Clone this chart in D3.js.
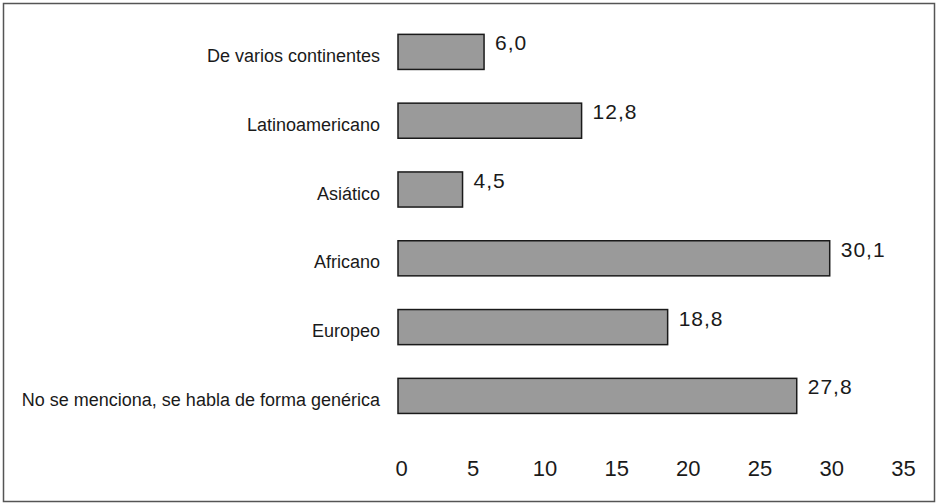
<!DOCTYPE html>
<html>
<head>
<meta charset="utf-8">
<script src="https://cdn.jsdelivr.net/npm/d3@7"></script>
<style>
  html, body { margin: 0; padding: 0; background: #fff; }
  svg { display: block; }
  text { font-family: "Liberation Sans", Arial, sans-serif; fill: #1a1a1a; }
</style>
</head>
<body>
<svg id="chart" width="940" height="504"></svg>
<script>
const categories = [
  "De varios continentes",
  "Latinoamericano",
  "Asiático",
  "Africano",
  "Europeo",
  "No se menciona, se habla de forma genérica"
];
const values = [6.0, 12.8, 4.5, 30.1, 18.8, 27.8];
const valueLabels = ["6,0", "12,8", "4,5", "30,1", "18,8", "27,8"];
const tickValues = [0, 5, 10, 15, 20, 25, 30, 35];

const svg = d3.select("#chart");

// outer frame
svg.append("rect")
  .attr("x", 3.5).attr("y", 3.5)
  .attr("width", 931).attr("height", 498)
  .attr("fill", "none")
  .attr("stroke", "#555")
  .attr("stroke-width", 1.5);

const x = d3.scaleLinear().domain([0, 35]).range([398, 900]);
const y = d3.scaleBand()
  .domain(categories)
  .range([17.5, 430.3])
  .paddingInner(0.49)
  .paddingOuter(0.245);

// bars
svg.append("g").selectAll("rect")
  .data(categories)
  .join("rect")
  .attr("x", x(0))
  .attr("y", d => y(d))
  .attr("width", (d, i) => x(values[i]) - x(0))
  .attr("height", y.bandwidth())
  .attr("fill", "#9a9a9a")
  .attr("stroke", "#1a1a1a")
  .attr("stroke-width", 1.5);

// value labels
svg.append("g").selectAll("text")
  .data(categories)
  .join("text")
  .attr("x", (d, i) => x(values[i]) + 11)
  .attr("y", d => y(d) + 16)
  .attr("font-size", 21)
  .attr("letter-spacing", 1)
  .text((d, i) => valueLabels[i]);

// category labels
svg.append("g").selectAll("text")
  .data(categories)
  .join("text")
  .attr("x", 380)
  .attr("y", d => y(d) + y.bandwidth() / 2 + 10)
  .attr("text-anchor", "end")
  .attr("font-size", 18)
  .text(d => d);

// x axis tick labels (no axis line)
const axis = d3.axisBottom(x).tickValues(tickValues).tickSize(0).tickPadding(0)
  .tickFormat(d3.format("d"));
const gx = svg.append("g").attr("transform", "translate(3,0)").call(axis);
gx.select(".domain").remove();
gx.selectAll("text")
  .attr("y", 476)
  .attr("dy", null)
  .attr("font-size", 22)
  .attr("font-family", "'Liberation Sans', Arial, sans-serif")
  .attr("fill", "#1a1a1a");
</script>
</body>
</html>
